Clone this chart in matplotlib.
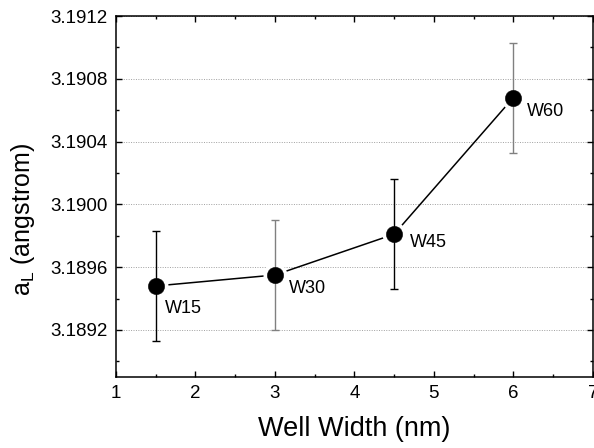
import matplotlib
matplotlib.use("Agg")
import matplotlib.pyplot as plt
from matplotlib.ticker import MultipleLocator, FormatStrFormatter

plt.rcParams['font.family'] = ['Liberation Sans', 'DejaVu Sans']
plt.rcParams['mathtext.fontset'] = 'custom'
plt.rcParams['mathtext.rm'] = 'Liberation Sans'

# Lattice parameter a_L vs well width
well_width = [1.5, 3.0, 4.5, 6.0]
a_l = [3.18948, 3.18955, 3.18981, 3.19068]
a_l_err = [0.00035, 0.00035, 0.00035, 0.00035]
labels = ["W15", "W30", "W45", "W60"]
bar_colors = ["black", "#808080", "black", "#808080"]
label_offsets = [(6.5, -16), (10, -10), (11.5, -6), (9.5, -10)]

fig = plt.figure(figsize=(5.94, 4.48), dpi=100)
ax = fig.add_axes([0.1953, 0.1585, 0.8027, 0.8057])

# connecting line, with a small gap around each symbol
ax.plot(well_width, a_l, color="black", lw=1.1, zorder=1)
ax.plot(well_width, a_l, "o", ms=11.8, mfc="white", mec="white", mew=5.5, zorder=2)

# error bars
for x, y, e, c in zip(well_width, a_l, a_l_err, bar_colors):
    ax.errorbar(x, y, yerr=e, fmt="none", ecolor=c, elinewidth=1.0,
                capsize=3, capthick=1.0, zorder=3)

ax.plot(well_width, a_l, "o", ms=11.8, mfc="black", mec="black", mew=0.3, zorder=4)

for x, y, t, off in zip(well_width, a_l, labels, label_offsets):
    ax.annotate(t, (x, y), xytext=off, textcoords="offset points",
                ha="left", va="center", fontsize=13)

ax.set_xlim(1, 7)
ax.set_ylim(3.1889, 3.1912)
ax.xaxis.set_major_locator(MultipleLocator(1))
ax.xaxis.set_minor_locator(MultipleLocator(0.5))
ax.yaxis.set_major_locator(MultipleLocator(0.0004))
ax.yaxis.set_minor_locator(MultipleLocator(0.0002))
ax.yaxis.set_major_formatter(FormatStrFormatter("%.4f"))

ax.tick_params(which="both", direction="in", top=True, right=True, labelsize=13.5, width=1.0)
ax.tick_params(which="major", length=4.5, pad=6)
ax.tick_params(which="minor", length=2.5)

for s in ax.spines.values():
    s.set_linewidth(1.1)

ax.grid(axis="y", which="major", linestyle=(0, (1, 1.5)), color="#a0a0a0", lw=0.7)
ax.set_axisbelow(True)

ax.set_xlabel("Well Width (nm)", fontsize=19.5, labelpad=10)
ax.set_ylabel(r"a$_{\mathregular{L}}$ (angstrom)", fontsize=18)
ax.yaxis.set_label_coords(-0.166, 0.435)

fig.savefig("out.png", dpi=100)
